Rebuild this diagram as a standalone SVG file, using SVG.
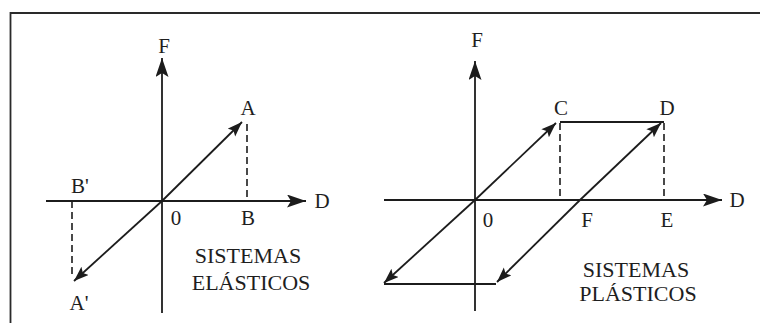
<svg xmlns="http://www.w3.org/2000/svg" width="760" height="323" viewBox="0 0 760 323">
<defs>
<style>
.ln{stroke:#1c1c1c;stroke-width:1.8;fill:none}
.ds{stroke:#1c1c1c;stroke-width:1.6;fill:none;stroke-dasharray:7 4}
.t{font-family:"Liberation Serif","Times New Roman",serif;font-size:21px;fill:#1e1e1e;text-anchor:middle}
.ti{font-size:22px}
.frame{stroke:#2a2a2a;stroke-width:1.8;fill:none}
</style>
<marker id="ax" markerUnits="userSpaceOnUse" markerWidth="22" markerHeight="14" refX="19" refY="6.5" orient="auto">
<path d="M0,0 L19,6.5 L0,13 L4,6.5 z" fill="#1c1c1c"/>
</marker>
<marker id="ar" markerUnits="userSpaceOnUse" markerWidth="17" markerHeight="12" refX="15" refY="5.5" orient="auto">
<path d="M0,0 L15,5.5 L0,11 L3,5.5 z" fill="#1c1c1c"/>
</marker>
</defs>
<rect width="760" height="323" fill="#ffffff"/>
<path class="frame" d="M10.5,323 L10.5,13 L760,13"/>

<g id="connectors">
<!-- elastic -->
<line class="ln" x1="162" y1="313" x2="162" y2="58" marker-end="url(#ax)"/>
<line class="ln" x1="46" y1="201" x2="306" y2="201" marker-end="url(#ax)"/>
<line class="ln" x1="162" y1="201" x2="242" y2="122" marker-end="url(#ar)"/>
<line class="ln" x1="162" y1="201" x2="74" y2="281" marker-end="url(#ar)"/>
<line class="ds" x1="247" y1="124" x2="247" y2="201"/>
<line class="ds" x1="72" y1="201" x2="72" y2="278"/>
<!-- plastic -->
<line class="ln" x1="475" y1="311" x2="475" y2="61" marker-end="url(#ax)"/>
<line class="ln" x1="384" y1="200" x2="722" y2="200" marker-end="url(#ax)"/>
<line class="ln" x1="475" y1="200" x2="556" y2="123" marker-end="url(#ar)"/>
<line class="ln" x1="475" y1="200" x2="384" y2="283" marker-end="url(#ar)"/>
<line class="ln" x1="580" y1="200" x2="661" y2="123" marker-end="url(#ar)"/>
<line class="ln" x1="580" y1="200" x2="497" y2="282" marker-end="url(#ar)"/>
<line class="ln" x1="560" y1="122" x2="664" y2="122"/>
<line class="ln" x1="384" y1="284" x2="496" y2="284"/>
<line class="ds" x1="560" y1="123" x2="560" y2="200"/>
<line class="ds" x1="664" y1="123" x2="664" y2="200"/>
</g>

<g id="elastic-labels">
<text id="lF1" class="t" x="164" y="53">F</text>
<text id="lD1" class="t" x="322" y="208">D</text>
<text id="lA" class="t" x="248" y="115">A</text>
<text id="lB" class="t" x="248" y="225">B</text>
<text id="l01" class="t" x="176" y="225">0</text>
<text id="lBp" class="t" x="80" y="193">B'</text>
<text id="lAp" class="t" x="79" y="310">A'</text>
<text id="title1a" class="t ti" x="248" y="263">SISTEMAS</text>
<text id="title1b" class="t ti" x="251" y="290">ELÁSTICOS</text>
</g>

<g id="plastic-labels">
<text id="lF2" class="t" x="477" y="47">F</text>
<text id="lD2" class="t" x="737" y="207">D</text>
<text id="lC" class="t" x="561" y="115">C</text>
<text id="lDpt" class="t" x="667" y="115">D</text>
<text id="l02" class="t" x="488" y="227">0</text>
<text id="lFpt" class="t" x="587" y="227">F</text>
<text id="lE" class="t" x="667" y="227">E</text>
<text id="title2a" class="t ti" x="636" y="277">SISTEMAS</text>
<text id="title2b" class="t ti" x="638" y="301">PLÁSTICOS</text>
</g>
</svg>
